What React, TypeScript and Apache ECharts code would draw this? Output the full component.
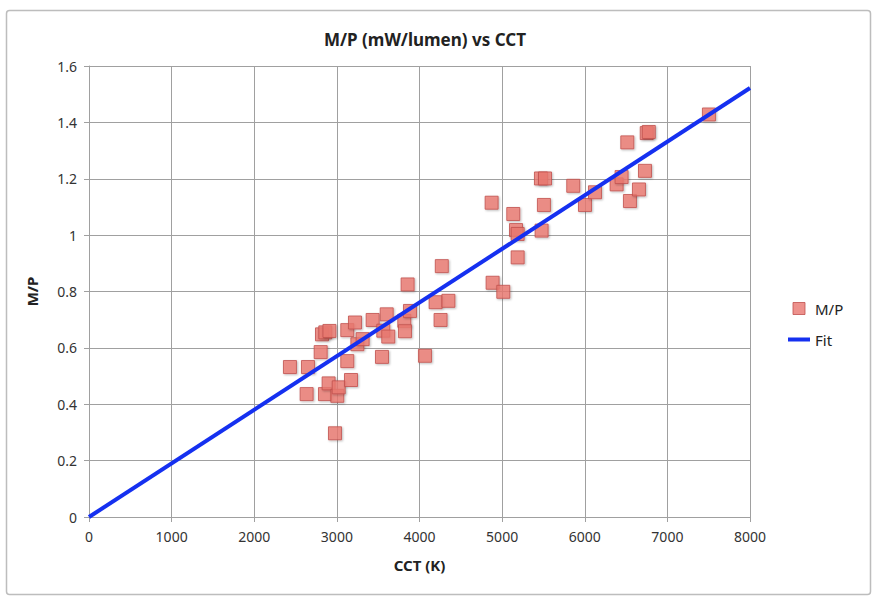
import React, { useEffect, useRef } from "react";
import * as echarts from "echarts";

const cct: number[] = [
  2432, 2650, 2634, 2804, 2820, 2860, 2910, 2856, 2900, 3005, 2977, 3022,
  3126, 3126, 3171, 3219, 3248, 3312, 3433, 3546, 3562, 3603, 3622, 3816,
  3824, 3856, 3885, 4066, 4195, 4255, 4270, 4350, 4873, 4885, 5014, 5135,
  5168, 5188, 5188, 5470, 5519, 5478, 5506, 5861, 6003, 6124, 6386, 6446,
  6515, 6547, 6656, 6729, 6750, 6775, 7503,
];
const mp: number[] = [
  0.532, 0.532, 0.436, 0.585, 0.648, 0.655, 0.66, 0.436, 0.474, 0.43, 0.297, 0.46,
  0.663, 0.553, 0.486, 0.69, 0.613, 0.631, 0.699, 0.568, 0.661, 0.719, 0.64, 0.696,
  0.659, 0.825, 0.731, 0.572, 0.762, 0.699, 0.89, 0.767, 1.115, 0.831, 0.799, 1.075,
  1.018, 1.004, 0.921, 1.201, 1.201, 1.016, 1.107, 1.175, 1.107, 1.152, 1.18, 1.206,
  1.329, 1.121, 1.162, 1.228, 1.362, 1.366, 1.428,
];
const fitX: number[] = [0, 8000];
const fitY: number[] = [0, 1.522];
const xTicks: number[] = [0, 1000, 2000, 3000, 4000, 5000, 6000, 7000, 8000];
const yTicks: number[] = [0, 0.2, 0.4, 0.6, 0.8, 1, 1.2, 1.4, 1.6];

const FONT = "'Liberation Sans Narrow', 'Noto Sans', sans-serif";

export default function App() {
  const ref = useRef<HTMLDivElement>(null);
  useEffect(() => {
    if (!ref.current) return;
    const chart = echarts.init(ref.current, undefined, { renderer: "svg" });
    const scatter = cct.map((x, i) => [x, mp[i]]);
    const fit = fitX.map((x, i) => [x, fitY[i]]);
    chart.setOption({
      animation: false,
      backgroundColor: "#ffffff",
      textStyle: { fontFamily: FONT },
      graphic: [
        {
          type: "rect",
          left: 4,
          top: 8,
          shape: { width: 864, height: 584, r: 3 },
          style: { fill: "none", stroke: "#bdbdbd", lineWidth: 1.5 },
          silent: true,
          z: -10,
        },
      ],
      title: {
        text: "M/P (mW/lumen) vs CCT",
        left: 420,
        textAlign: "center",
        top: 26,
        textStyle: { fontFamily: FONT, fontSize: 17, fontWeight: "bold", color: "#222" },
      },
      legend: {
        orient: "vertical",
        left: 783,
        top: 296,
        itemGap: 16,
        itemWidth: 22,
        itemHeight: 12,
        symbolKeepAspect: true,
        textStyle: { fontFamily: FONT, fontSize: 15, color: "#222" },
        data: [
          {
            name: "M/P",
            icon: "path://M0,0L10,0L10,10L0,10Z",
            itemStyle: { color: "#e9766f", borderColor: "#c0504d", borderWidth: 1 },
          },
          { name: "Fit", icon: "path://M0,0 L22,0 L22,4 L0,4 Z", itemStyle: { color: "#1530f0" } },
        ],
      },
      grid: { left: 89, right: 123, top: 66, bottom: 83, containLabel: false },
      xAxis: {
        type: "value",
        min: 0,
        max: 8000,
        interval: 1000,
        name: "CCT (K)",
        nameLocation: "middle",
        nameGap: 40,
        nameTextStyle: { fontFamily: FONT, fontSize: 15, fontWeight: "bold", color: "#222" },
        axisLine: { show: true, lineStyle: { color: "#a0a0a0", width: 1 } },
        axisTick: { show: true, length: 5, lineStyle: { color: "#a0a0a0" } },
        axisLabel: {
          fontFamily: FONT,
          fontSize: 14,
          color: "#333",
          margin: 12,
          formatter: (v: number) => (xTicks.includes(v) ? String(v) : ""),
        },
        splitLine: { show: true, lineStyle: { color: "#a0a0a0", width: 1 } },
      },
      yAxis: {
        type: "value",
        min: 0,
        max: 1.6,
        interval: 0.2,
        name: "M/P",
        nameLocation: "middle",
        nameGap: 50,
        nameRotate: 90,
        nameTextStyle: { fontFamily: FONT, fontSize: 15, fontWeight: "bold", color: "#222" },
        axisLine: { show: true, lineStyle: { color: "#a0a0a0", width: 1 } },
        axisTick: { show: true, length: 5, lineStyle: { color: "#a0a0a0" } },
        axisLabel: {
          fontFamily: FONT,
          fontSize: 14,
          color: "#333",
          margin: 12,
          formatter: (v: number) => {
            const t = yTicks.find((y) => Math.abs(y - v) < 1e-6);
            return t === undefined ? "" : String(t);
          },
        },
        splitLine: { show: true, lineStyle: { color: "#a0a0a0", width: 1 } },
      },
      series: [
        {
          name: "M/P",
          type: "scatter",
          symbol: "rect",
          symbolSize: 13,
          data: scatter,
          z: 3,
          itemStyle: {
            color: "#ec7a72",
            borderColor: "#c0504d",
            borderWidth: 1,
            shadowColor: "rgba(0,0,0,0.3)",
            shadowBlur: 2,
            shadowOffsetX: 1,
            shadowOffsetY: 1,
          },
        },
        {
          name: "Fit",
          type: "line",
          data: fit,
          symbol: "none",
          z: 4,
          lineStyle: { color: "#1530f0", width: 4 },
          itemStyle: { color: "#1530f0" },
        },
      ],
    });
    return () => chart.dispose();
  }, []);
  return <div ref={ref} style={{ width: 873, height: 600, position: "absolute", left: 0, top: 0 }} />;
}
